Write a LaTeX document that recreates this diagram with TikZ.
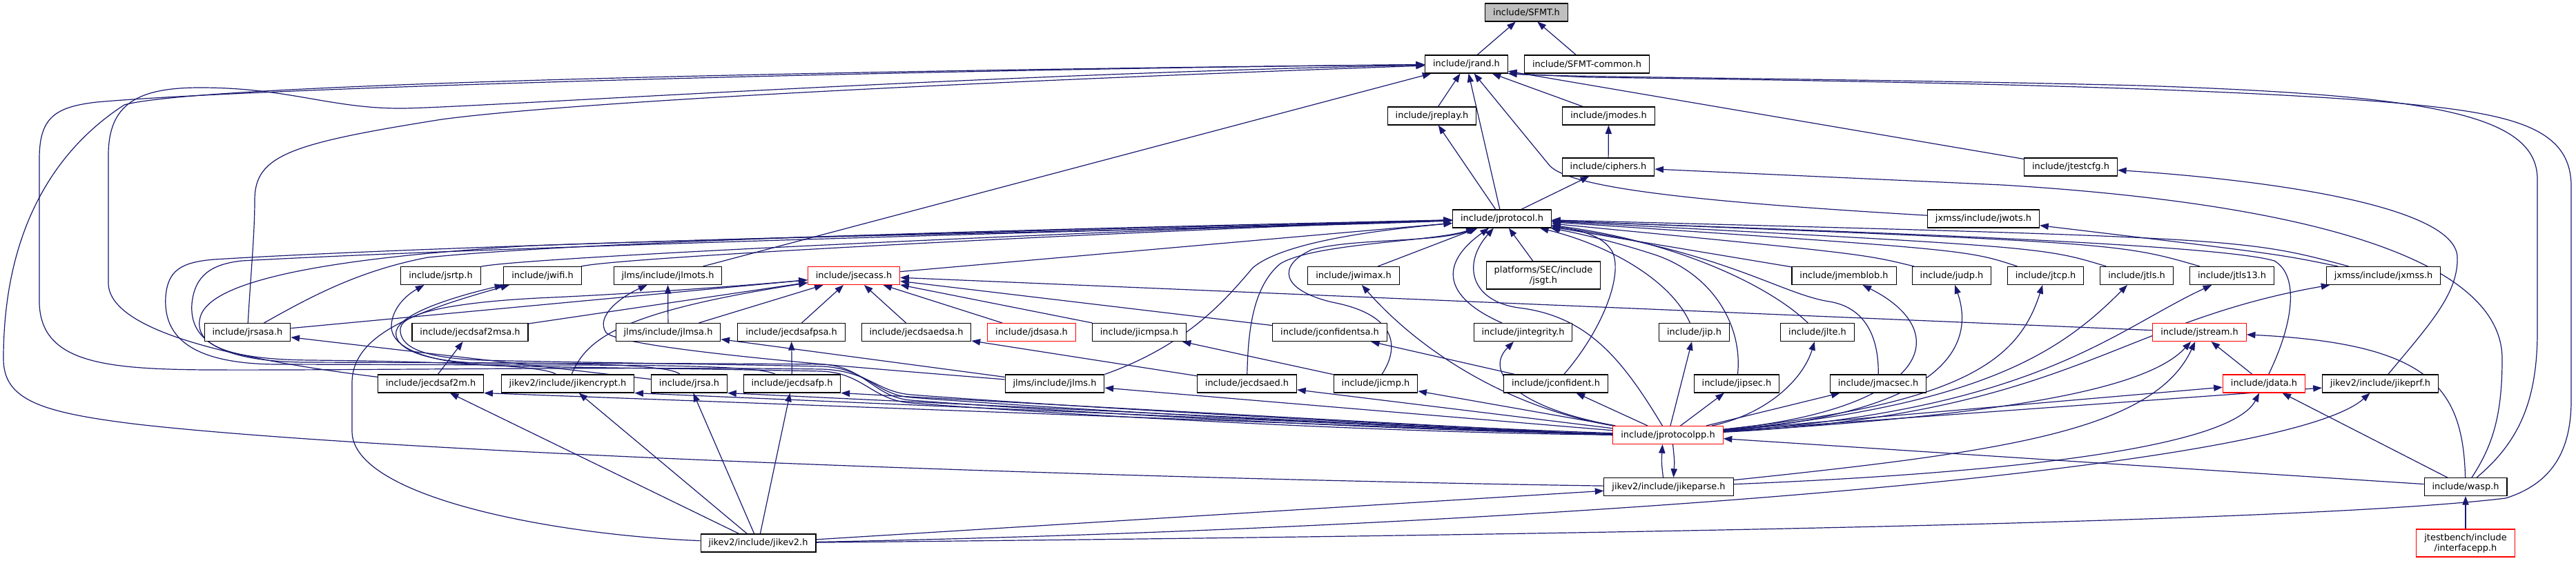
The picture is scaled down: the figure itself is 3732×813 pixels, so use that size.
\documentclass[tikz,border=0pt]{standalone}
\usepackage{fontspec}
\setmainfont{DejaVu Sans}
\usetikzlibrary{arrows.meta,calc}
\pgfdeclarelayer{edges}
\pgfsetlayers{edges,main}
\definecolor{edgeblue}{RGB}{25,25,112}
\definecolor{rootgrey}{RGB}{191,191,191}
\begin{document}
\begin{tikzpicture}[
    x=0.75pt, y=-0.75pt,
    file/.style={rectangle, draw=black, fill=white, line width=0.8pt, inner xsep=8.6pt, inner ysep=0pt, minimum height=19.5pt, align=center, font=\fontsize{9.7}{11.2}\selectfont},
    redfile/.style={file, draw=red},
    rootfile/.style={file, fill=rootgrey},
    tallfile/.style={file, minimum height=30pt},
    inc/.style={-{Triangle[length=9.5pt,width=7pt]}, draw=edgeblue, line width=0.9pt}
]
\useasboundingbox (0,0) rectangle (3732,813);

\node[rootfile] (sfmt) at (2211.5,18) {include/SFMT.h};
\node[file] (jrand) at (2124.5,93) {include/jrand.h};
\node[file] (sfmtc) at (2299,93) {include/SFMT-common.h};
\node[file] (jreplay) at (2074.5,168) {include/jreplay.h};
\node[file] (jmodes) at (2330.5,168) {include/jmodes.h};
\node[file] (ciphers) at (2330,242) {include/ciphers.h};
\node[file] (jtestcfg) at (3000,242) {include/jtestcfg.h};
\node[file] (jprotocol) at (2176,317) {include/jprotocol.h};
\node[file] (jwots) at (2873.5,317) {jxmss/include/jwots.h};

\node[file] (jsrtp) at (638.5,399.5) {include/jsrtp.h};
\node[file] (jwifi) at (786,399.5) {include/jwifi.h};
\node[file] (jlmots) at (967.5,399.5) {jlms/include/jlmots.h};
\node[redfile] (jsecass) at (1237,399.5) {include/jsecass.h};
\node[file] (jwimax) at (1961,399.5) {include/jwimax.h};
\node[tallfile] (jsgt) at (2236,399) {platforms/SEC/include\\/jsgt.h};
\node[file] (jmemblob) at (2671.5,399.5) {include/jmemblob.h};
\node[file] (judp) at (2827.5,399.5) {include/judp.h};
\node[file] (jtcp) at (2963.5,399.5) {include/jtcp.h};
\node[file] (jtls) at (3095.5,399.5) {include/jtls.h};
\node[file] (jtls13) at (3233.5,399.5) {include/jtls13.h};
\node[file] (jxmss) at (3453,399.5) {jxmss/include/jxmss.h};

\node[file] (jrsasa) at (358.5,481.5) {include/jrsasa.h};
\node[file] (jecdsaf2msa) at (681,481.5) {include/jecdsaf2msa.h};
\node[file] (jlmsa) at (968,481.5) {jlms/include/jlmsa.h};
\node[file] (jecdsafpsa) at (1146.5,481.5) {include/jecdsafpsa.h};
\node[file] (jecdsaedsa) at (1327.5,481.5) {include/jecdsaedsa.h};
\node[redfile] (jdsasa) at (1494.5,481.5) {include/jdsasa.h};
\node[file] (jicmpsa) at (1650.5,481.5) {include/jicmpsa.h};
\node[file] (jconfidentsa) at (1926.5,481.5) {include/jconfidentsa.h};
\node[file] (jintegrity) at (2206.5,481.5) {include/jintegrity.h};
\node[file] (jip) at (2454.5,481.5) {include/jip.h};
\node[file] (jlte) at (2633,481.5) {include/jlte.h};
\node[redfile] (jstream) at (3186.5,481.5) {include/jstream.h};

\node[file] (jecdsaf2m) at (624,556) {include/jecdsaf2m.h};
\node[file] (jikencrypt) at (822.5,556) {jikev2/include/jikencrypt.h};
\node[file] (jrsa) at (998.5,556) {include/jrsa.h};
\node[file] (jecdsafp) at (1147.5,556) {include/jecdsafp.h};
\node[file] (jlms) at (1528,556) {jlms/include/jlms.h};
\node[file] (jecdsaed) at (1806.5,556) {include/jecdsaed.h};
\node[file] (jicmp) at (1993,556) {include/jicmp.h};
\node[file] (jconfident) at (2254,556) {include/jconfident.h};
\node[file] (jipsec) at (2516,556) {include/jipsec.h};
\node[file] (jmacsec) at (2721,556) {include/jmacsec.h};
\node[redfile] (jdata) at (3280,556) {include/jdata.h};
\node[file] (jikeprf) at (3448.5,556) {jikev2/include/jikeprf.h};

\node[redfile] (jprotocolpp) at (2416.5,630.5) {include/jprotocolpp.h};
\node[file] (jikeparse) at (2417.5,705.5) {jikev2/include/jikeparse.h};
\node[file] (wasp) at (3572,705.5) {include/wasp.h};
\node[file] (jikev2) at (1098.5,787) {jikev2/include/jikev2.h};
\node[redfile, minimum height=30pt] (interfacepp) at (3572,787) {jtestbench/include\\/interfacepp.h};

\begin{pgfonlayer}{edges}
\draw[inc] (jrand) -- (sfmt);
\draw[inc] (sfmtc) -- (sfmt);
\draw[inc] (jreplay) -- (jrand);
\draw[inc] (jmodes) -- (jrand);
\draw[inc] (jprotocol) -- (jrand);
\draw[inc] (jprotocol) -- (jreplay);
\draw[inc] (ciphers) -- (jmodes);
\draw[inc] (jprotocol) -- (ciphers);
\draw[inc] (jtestcfg) -- (jrand);
\draw[inc] (jlmots) -- (jrand);
\draw[inc] (jwots) .. controls (2450,292) and (2275,272) .. (2245,240) -- (jrand);
\draw[inc] (wasp) .. controls (3650,640) and (3676,580) .. (3676,480) -- (3676,260) .. controls (3676,165) and (3520,138) .. (3100,124) .. controls (2700,114) and (2260,112) .. (jrand.south east);
\draw[inc] (jikev2) .. controls (2000,778) and (3300,762) .. (3630,722) .. controls (3700,700) and (3725,650) .. (3725,580) -- (3725,270) .. controls (3725,185) and (3640,165) .. (3480,150) .. controls (3200,124) and (2600,116) .. (2300,112) -- (jrand.south east);
\draw[inc] (jikeparse) .. controls (1700,695) and (600,660) .. (200,615) .. controls (60,598) and (5,580) .. (5,520) .. controls (5,360) and (60,230) .. (180,152) .. controls (300,118) and (1400,100) .. (jrand);
\draw[inc] (jecdsaf2m) .. controls (400,528) and (157,490) .. (157,410) -- (157,225) .. controls (157,150) and (200,127) .. (290,127) .. controls (420,127) and (480,158) .. (585,157) .. controls (700,155) and (1400,108) .. (jrand);
\draw[inc] (jrsasa) .. controls (363,400) and (369,340) .. (369,290) .. controls (369,225) and (420,208) .. (640,173) .. controls (850,145) and (1500,115) .. (jrand);
\draw[inc] (jprotocolpp) .. controls (2000,616) and (1500,586) .. (1320,572) .. controls (1270,568) and (1258,537) .. (1190,535) .. controls (900,531) and (500,537) .. (300,536) .. controls (150,535) and (60,525) .. (57,440) -- (57,230) .. controls (57,170) and (80,155) .. (140,148) .. controls (400,125) and (1400,100) .. (jrand);
\draw[inc] (wasp) .. controls (3612,645) and (3625,600) .. (3625,520) .. controls (3625,380) and (3360,296) .. (2900,268) -- (ciphers);
\draw[inc] (jikeprf) .. controls (3520,470) and (3562,425) .. (3560,372) .. controls (3556,300) and (3300,262) .. (jtestcfg);

\draw[inc] (jecdsafp) .. controls (1105,532) and (1000,529) .. (800,529) -- (400,528) .. controls (265,527) and (237,480) .. (240,430) .. controls (243,392) and (262,380) .. (310,376) .. controls (700,352) and (1700,330) .. (jprotocol);
\draw[inc] (jrsa) .. controls (975,532) and (900,527) .. (750,526) -- (440,525) .. controls (300,523) and (275,482) .. (278,440) .. controls (282,400) and (305,383) .. (350,378) .. controls (750,356) and (1700,332) .. (jprotocol);
\draw[inc] (jikencrypt) .. controls (790,530) and (650,524) .. (450,522) .. controls (330,521) and (280,500) .. (290,460) .. controls (300,420) and (400,378) .. (770,356) .. controls (1200,340) and (1800,332) .. (jprotocol);
\draw[inc] (jrsasa) .. controls (450,430) and (520,392) .. (620,373) .. controls (900,345) and (1700,328) .. (jprotocol);
\draw[inc] (jsrtp) .. controls (760,372) and (1700,330) .. (jprotocol);
\draw[inc] (jwifi) .. controls (900,372) and (1700,332) .. (jprotocol);
\draw[inc] (jsecass) -- (jprotocol);
\draw[inc] (jwimax) -- (jprotocol);
\draw[inc] (jsgt) -- (jprotocol);
\draw[inc] (jlms.north east) .. controls (1720,500) and (1775,435) .. (1815,388) .. controls (1860,350) and (2000,333) .. (jprotocol);
\draw[inc] (jecdsaed) .. controls (1808,480) and (1815,415) .. (1855,382) .. controls (1905,352) and (2080,350) .. (jprotocol);
\draw[inc] (jicmp) .. controls (2030,500) and (2020,455) .. (1930,438) .. controls (1855,420) and (1850,385) .. (1900,362) .. controls (1960,345) and (2080,352) .. (jprotocol);
\draw[inc] (jintegrity) .. controls (2090,430) and (2085,382) .. (jprotocol);
\draw[inc] (jconfident) .. controls (2320,480) and (2352,400) .. (2336,365) .. controls (2322,340) and (2285,333) .. (jprotocol);
\draw[inc] (jprotocolpp) .. controls (2350,520) and (2300,458) .. (2200,446) .. controls (2130,436) and (2118,382) .. (jprotocol);
\draw[inc] (jmemblob) -- (jprotocol);
\draw[inc] (judp) .. controls (2700,368) .. (jprotocol);
\draw[inc] (jtcp) .. controls (2850,362) .. (jprotocol);
\draw[inc] (jtls) .. controls (2960,358) .. (jprotocol);
\draw[inc] (jtls13) .. controls (3070,352) .. (jprotocol);
\draw[inc] (jxmss) .. controls (3250,345) .. (jprotocol);
\draw[inc] (jip) .. controls (2420,405) and (2330,355) .. (jprotocol);
\draw[inc] (jipsec) .. controls (2525,470) and (2480,398) .. (2400,370) .. controls (2330,347) and (2275,336) .. (jprotocol);
\draw[inc] (jlte) .. controls (2565,415) and (2430,350) .. (jprotocol);
\draw[inc] (jmacsec) .. controls (2722,485) and (2700,445) .. (2650,437) .. controls (2580,426) and (2500,365) .. (jprotocol);
\draw[inc] (jdata) .. controls (3322,470) and (3332,400) .. (3295,378) .. controls (3200,350) and (2500,330) .. (jprotocol);
\draw[inc] (jxmss) .. controls (3300,368) .. (jwots);

\draw[inc] (jrsasa) -- (jsecass);
\draw[inc] (jecdsaf2msa) -- (jsecass);
\draw[inc] (jlmsa) -- (jsecass);
\draw[inc] (jecdsafpsa) -- (jsecass);
\draw[inc] (jecdsaedsa) -- (jsecass);
\draw[inc] (jdsasa) -- (jsecass);
\draw[inc] (jicmpsa) -- (jsecass);
\draw[inc] (jconfidentsa) -- (jsecass);
\draw[inc] (jstream) -- (jsecass);
\draw[inc] (jikencrypt) .. controls (850,490) and (900,452) .. (jsecass);
\draw[inc] (jprotocolpp) .. controls (2000,620) and (1500,590) .. (1320,576) .. controls (1268,572) and (1255,533) .. (1190,531) .. controls (1000,527) and (760,524) .. (700,522) .. controls (610,519) and (578,502) .. (580,476) .. controls (583,450) and (680,436) .. (800,431) .. controls (950,424) and (1100,412) .. (jsecass);
\draw[inc] (jprotocolpp) .. controls (2000,624) and (1500,594) .. (1320,580) .. controls (1266,576) and (1252,530) .. (1190,528) .. controls (1000,526) and (760,527) .. (690,526) .. controls (600,522) and (570,500) .. (574,480) .. controls (580,455) and (650,432) .. (jwifi);
\draw[inc] (jprotocolpp) .. controls (2000,628) and (1500,598) .. (1320,584) .. controls (1264,580) and (1250,540) .. (1190,538) .. controls (1000,534) and (780,532) .. (720,530) .. controls (620,526) and (566,505) .. (567,472) .. controls (568,447) and (588,428) .. (jsrtp);
\draw[inc] (jikev2) .. controls (800,775) and (510,720) .. (510,625) -- (510,555) .. controls (510,485) and (600,452) .. (jwifi);

\draw[inc] (jlmsa) -- (jlmots);
\draw[inc] (jlms) .. controls (1300,537) and (905,508) .. (878,482) .. controls (862,458) and (900,430) .. (jlmots);
\draw[inc] (jlms) -- (jlmsa);
\draw[inc] (jecdsaf2m) -- (jecdsaf2msa);
\draw[inc] (jecdsafp) -- (jecdsafpsa);
\draw[inc] (jecdsaed) -- (jecdsaedsa);
\draw[inc] (jicmp) -- (jicmpsa);
\draw[inc] (jconfident) -- (jconfidentsa);
\draw[inc] (jrsa) -- (jrsasa);
\draw[inc] (jdata) -- (jstream);

\draw[inc] (jprotocolpp.west) -- (jecdsaf2m.south east);
\draw[inc] (jprotocolpp.west) -- (jikencrypt.south east);
\draw[inc] (jprotocolpp.west) -- (jrsa.south east);
\draw[inc] (jprotocolpp.west) -- (jecdsafp.south east);
\draw[inc] (jprotocolpp) -- (jlms);
\draw[inc] (jprotocolpp) -- (jecdsaed);
\draw[inc] (jprotocolpp) -- (jicmp);
\draw[inc] (jprotocolpp) -- (jconfident);
\draw[inc] (jprotocolpp) -- (jip);
\draw[inc] (jprotocolpp) -- (jipsec);
\draw[inc] (jprotocolpp) -- (jmacsec);
\draw[inc] (jprotocolpp) .. controls (2200,592) and (2148,540) .. (jintegrity);
\draw[inc] (jprotocolpp) .. controls (2190,592) and (2060,512) .. (jwimax);
\draw[inc] (jprotocolpp) .. controls (2560,600) and (2612,550) .. (jlte);
\draw[inc] (jprotocolpp) .. controls (2800,592) and (2832,480) .. (jmemblob);
\draw[inc] (jprotocolpp) .. controls (2820,598) and (2862,500) .. (judp);
\draw[inc] (jprotocolpp) .. controls (2850,585) and (2925,520) .. (jtcp);
\draw[inc] (jprotocolpp) .. controls (2880,588) and (2990,505) .. (jtls);
\draw[inc] (jprotocolpp) .. controls (2950,595) and (3060,480) .. (jtls13);
\draw[inc] (jprotocolpp) .. controls (3000,600) and (3060,468) .. (jxmss);
\draw[inc] (jprotocolpp) .. controls (2900,602) and (3110,565) .. (jstream);
\draw[inc] (jprotocolpp) -- (jdata);
\draw[inc] (jprotocolpp) -- (jikeprf);
\draw[inc] ($(jprotocolpp.south)+(7,0)$) .. controls (2426,668) .. ($(jikeparse.north)+(7,0)$);
\draw[inc] ($(jikeparse.north)+(-8,0)$) .. controls (2407,670) .. ($(jprotocolpp.south)+(-8,0)$);

\draw[inc] (jikeparse) .. controls (2900,686) and (3232,650) .. (jdata);
\draw[inc] (jikeparse) .. controls (2900,655) and (3120,625) .. (jstream);
\draw[inc] (wasp) .. controls (3568,560) and (3520,498) .. (jstream);
\draw[inc] (wasp) -- (jdata);
\draw[inc] (wasp) -- (jprotocolpp);
\draw[inc] (interfacepp) -- (wasp);

\draw[inc] (jikev2) -- (jecdsaf2m);
\draw[inc] (jikev2) -- (jikencrypt);
\draw[inc] (jikev2) -- (jrsa);
\draw[inc] (jikev2) -- (jecdsafp);
\draw[inc] (jikev2) -- (jikeparse);
\draw[inc] (jikev2) .. controls (2100,768) and (3300,690) .. (jikeprf);
\end{pgfonlayer}
\end{tikzpicture}
\end{document}
